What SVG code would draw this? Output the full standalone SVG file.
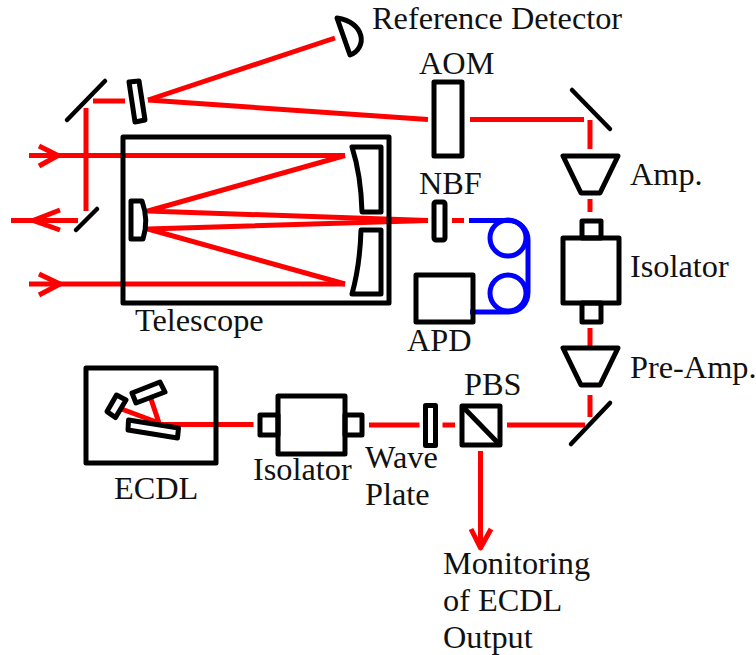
<svg xmlns="http://www.w3.org/2000/svg" width="756" height="655" viewBox="0 0 756 655">
<style>
text{font-family:"Liberation Serif","Times New Roman",serif;font-size:32.300px;fill:#111}
.k{fill:none;stroke:#000;stroke-width:5;stroke-linejoin:round;stroke-linecap:round}
.m{fill:none;stroke:#000;stroke-width:4.500;stroke-linecap:round}
.r{fill:none;stroke:#f00;stroke-width:5;stroke-linejoin:round}
.b{fill:none;stroke:#00f;stroke-width:5}
</style>
<rect width="756" height="655" fill="#fff"/>
<g id="connectors">
<path class="r" d="M93 101H125"/>
<path class="r" d="M86 108V211"/>
<path class="r" d="M29 155.500H345"/>
<path class="r" d="M39 146L58 155.500L39 166"/>
<path class="r" d="M29 284H345"/>
<path class="r" d="M39 274L60 284L39 295"/>
<path class="r" d="M11 220.500H78"/>
<path class="r" d="M60 210L33 220.500L60 230"/>
<path class="r" d="M148 100L335 38"/>
<path class="r" d="M148 100L428 119.500"/>
<path class="r" d="M470 119.500H584"/>
<path class="r" d="M590 120V149"/>
<path class="r" d="M590 199V212"/>
<path class="r" d="M590 328V349"/>
<path class="r" d="M590 395V417"/>
<path class="r" d="M345 155.500L148 211L428 220.500"/>
<path class="r" d="M345 284L148 229L428 220.500"/>
<path class="r" d="M452 220.500H464"/>
<path class="b" d="M469 220.500H508C520 220.500 528 230 528 240V292C528 304 520 312 508 312H470"/>
<circle class="b" cx="508" cy="238" r="18"/>
<circle class="b" cx="508" cy="293" r="18"/>
<path class="r" d="M507 425H585"/>
<path class="r" d="M442.500 425H455"/>
<path class="r" d="M369 425H419.500"/>
<path class="r" d="M159 424.500H253.500"/>
<path class="r" d="M121.600 409L159 423L151 399"/>
<path class="r" d="M480.500 451V548"/>
<path class="r" d="M471 529L480.500 548L491 529"/>
</g>
<g id="telescope"><rect class="k" x="123" y="137" width="266" height="166"/>
<path class="k" d="M352 147H381V212H362Q361 175 352 147Z"/>
<path class="k" d="M361 230H381V294H352Q360 265 361 230Z"/>
<path class="k" d="M131 201H142Q149 220 143 239H131Z"/></g>
<g id="mirror-1"><path class="m" d="M67 120L105 81"/></g>
<g id="mirror-2"><path class="m" d="M76 230L97 209"/></g>
<g id="beam-splitter"><path class="k" d="M129 82L139 81L145 120L135 122Z"/></g>
<g id="reference-detector"><path class="k" d="M337 18L350 55C368 48 365 22 337 18Z"/></g>
<g id="aom"><rect class="k" x="434" y="82" width="28" height="74"/></g>
<g id="mirror-3"><path class="m" d="M572 90L610 129"/></g>
<g id="amp"><path class="k" d="M563 156H618L600 193H581Z"/></g>
<g id="isolator-1"><rect class="k" x="582" y="221" width="19" height="17"/><rect class="k" x="563" y="238" width="56" height="65"/><rect class="k" x="582" y="303" width="19" height="19"/></g>
<g id="nbf"><rect class="k" x="434" y="202" width="11" height="38" rx="2"/></g>
<g id="apd"><rect class="k" x="416" y="275" width="57" height="47"/></g>
<g id="pre-amp"><path class="k" d="M563 348H618L600 385H581Z"/></g>
<g id="mirror-4"><path class="m" d="M571 444L610 403"/></g>
<g id="pbs"><rect class="k" x="462" y="406" width="38" height="39"/><path class="k" d="M464 408L499 444"/></g>
<g id="wave-plate"><rect class="k" x="425.500" y="405.500" width="10" height="40"/></g>
<g id="isolator-2"><rect class="k" x="260" y="415" width="18" height="20"/><rect class="k" x="278" y="396" width="67" height="58"/><rect class="k" x="345" y="415" width="17" height="20"/></g>
<g id="ecdl"><rect class="k" x="86" y="368" width="130" height="95"/>
<path class="k" d="M116.500 395L126 400L115.500 417.500L107 411.600Z"/>
<path class="k" d="M132 393L160 382L165 392L136 403Z"/>
<path class="k" d="M128.500 420L178.500 428L177.500 438L128 430Z"/></g>
<g id="labels">
<text x="372" y="29">Reference Detector</text>
<text x="419" y="74">AOM</text>
<text x="419" y="194">NBF</text>
<text x="630" y="185">Amp.</text>
<text x="630" y="277">Isolator</text>
<text x="407" y="351">APD</text>
<text x="630" y="378">Pre-Amp.</text>
<text x="135" y="331">Telescope</text>
<text x="114" y="499">ECDL</text>
<text x="253" y="480">Isolator</text>
<text x="365" y="468">Wave</text>
<text x="365" y="505">Plate</text>
<text x="464" y="395">PBS</text>
<text x="443" y="574">Monitoring</text>
<text x="443" y="611">of ECDL</text>
<text x="443" y="648">Output</text>
</g>
</svg>
